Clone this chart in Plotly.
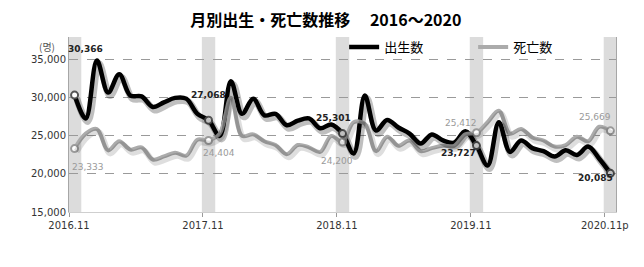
import plotly.graph_objects as go

# ---- data -------------------------------------------------------------
births = [30366, 27300, 34900, 30700, 33100, 30300, 30200, 28800, 29400, 30000, 29900, 27900,
          27068, 25000, 32200, 27900, 29900, 27700, 27900, 26400, 27000, 27300, 26000, 26500,
          25301, 22700, 30300, 25700, 27100, 26100, 25300, 24000, 25200, 24400, 24100, 25600,
          23727, 21100, 26800, 22900, 24400, 23400, 23000, 22300, 23100, 22500, 23600, 22000,
          20085]
deaths = [23333, 25300, 25900, 23100, 24300, 23200, 23500, 21900, 22300, 22800, 22400, 24500,
          24404, 25300, 30000, 25000, 25200, 24300, 23800, 22600, 23800, 23500, 22900, 25000,
          24200, 26800, 26600, 23000, 24900, 23700, 24400, 23000, 23400, 23700, 23700, 25200,
          25412, 26800, 28300, 25300, 25900, 24800, 24400, 23600, 23800, 24900, 24300, 26200,
          25669]
tick_labels = ["2016.11", "2017.11", "2018.11", "2019.11", "2020.11p"]
nov_idx = [0, 12, 24, 36, 48]
series_names = ["出生数", "死亡数"]
y_ticks = [15000, 20000, 25000, 30000, 35000]

idx = list(range(len(births)))

# label offsets (px) for the annotated November points
birth_off = [(11, 46), (0, 25), (-9, 16), (-18, -7), (-15, -5)]
death_off = [(13, -18), (10, -13), (-6, -19), (-15, 10), (-15, 14)]

X_RANGE = [-0.5, 48.5]
Y_RANGE = [15000, 38000]
PLOT_W, PLOT_H = 547, 175
dx = (X_RANGE[1] - X_RANGE[0]) / PLOT_W
dy = (Y_RANGE[1] - Y_RANGE[0]) / PLOT_H

fig = go.Figure()

# shadows (on shifted overlay axes)
fig.add_trace(go.Scatter(x=idx, y=deaths, mode="lines", line=dict(color="rgba(0,0,0,0.13)", width=6, shape="spline"),
                         xaxis="x2", yaxis="y2", showlegend=False, hoverinfo="skip"))
fig.add_trace(go.Scatter(x=idx, y=births, mode="lines", line=dict(color="rgba(0,0,0,0.25)", width=7, shape="spline"),
                         xaxis="x2", yaxis="y2", showlegend=False, hoverinfo="skip"))

fig.add_trace(go.Scatter(x=idx, y=births, mode="lines", name=series_names[0],
                         line=dict(color="#000000", width=4.5, shape="spline")))
fig.add_trace(go.Scatter(x=idx, y=deaths, mode="lines", name=series_names[1],
                         line=dict(color="#ababab", width=4, shape="spline")))

fig.add_trace(go.Scatter(x=nov_idx, y=[births[i] for i in nov_idx], mode="markers", showlegend=False,
                         marker=dict(size=7, color="white", line=dict(color="#555555", width=2))))
fig.add_trace(go.Scatter(x=nov_idx, y=[deaths[i] for i in nov_idx], mode="markers", showlegend=False,
                         marker=dict(size=7, color="white", line=dict(color="#9a9a9a", width=2))))

shapes = []
for i in nov_idx:
    shapes.append(dict(type="rect", xref="x", yref="paper", x0=i - 0.6, x1=i + 0.6, y0=0, y1=1,
                       fillcolor="#dcdcdc", line=dict(width=0), layer="below"))

annotations = []
for k, i in enumerate(nov_idx):
    annotations.append(dict(x=i, y=births[i], xref="x", yref="y", text=f"<b>{births[i]:,}</b>",
                            showarrow=False, xanchor="center", yanchor="middle",
                            xshift=birth_off[k][0], yshift=birth_off[k][1],
                            font=dict(family="DejaVu Sans", size=9, color="#222222")))
    annotations.append(dict(x=i, y=deaths[i], xref="x", yref="y", text=f"{deaths[i]:,}",
                            showarrow=False, xanchor="center", yanchor="middle",
                            xshift=death_off[k][0], yshift=death_off[k][1],
                            font=dict(family="DejaVu Sans", size=9, color="#9a9a9a")))
annotations.append(dict(x=-0.04, y=0.943, xref="paper", yref="paper", text="(명)", showarrow=False,
                        xanchor="center", yanchor="middle",
                        font=dict(family="Noto Sans CJK KR", size=10, color="#555555")))

fig.update_layout(
    width=644, height=267,
    margin=dict(l=69, r=28, t=37, b=55),
    paper_bgcolor="white", plot_bgcolor="white",
    title=dict(text="<b>月別出生・死亡数推移　 2016～2020</b>", x=0.506, xanchor="center",
               y=0.925, yanchor="middle",
               font=dict(family="Noto Sans CJK JP", size=16, color="#000000")),
    xaxis=dict(range=X_RANGE, tickvals=[i - 0.5 for i in nov_idx], ticktext=tick_labels,
               showgrid=False, zeroline=False, showline=True, linecolor="#cfcfcf", linewidth=1,
               ticks="outside", ticklen=4, tickcolor="#9a9a9a",
               tickfont=dict(family="DejaVu Sans", size=10, color="#333333")),
    yaxis=dict(range=Y_RANGE, tickvals=y_ticks, tickformat=",", showgrid=True,
               gridcolor="#9a9a9a", griddash="dash", gridwidth=1, zeroline=False,
               showline=True, linecolor="#a6a6a6", linewidth=1, mirror=True, ticks="",
               tickfont=dict(family="DejaVu Sans", size=10, color="#333333")),
    xaxis2=dict(range=[X_RANGE[0] - 2 * dx, X_RANGE[1] - 2 * dx], overlaying="x", visible=False),
    yaxis2=dict(range=[Y_RANGE[0] + 3 * dy, Y_RANGE[1] + 3 * dy], overlaying="y", visible=False),
    shapes=shapes,
    annotations=annotations,
    legend=dict(orientation="h", x=0.503, y=0.943, xanchor="left", yanchor="middle",
                bgcolor="rgba(0,0,0,0)", entrywidth=84, entrywidthmode="pixels",
                font=dict(family="Noto Sans CJK JP", size=13, color="#000000")),
    showlegend=True,
)

fig.write_html("out.html")
